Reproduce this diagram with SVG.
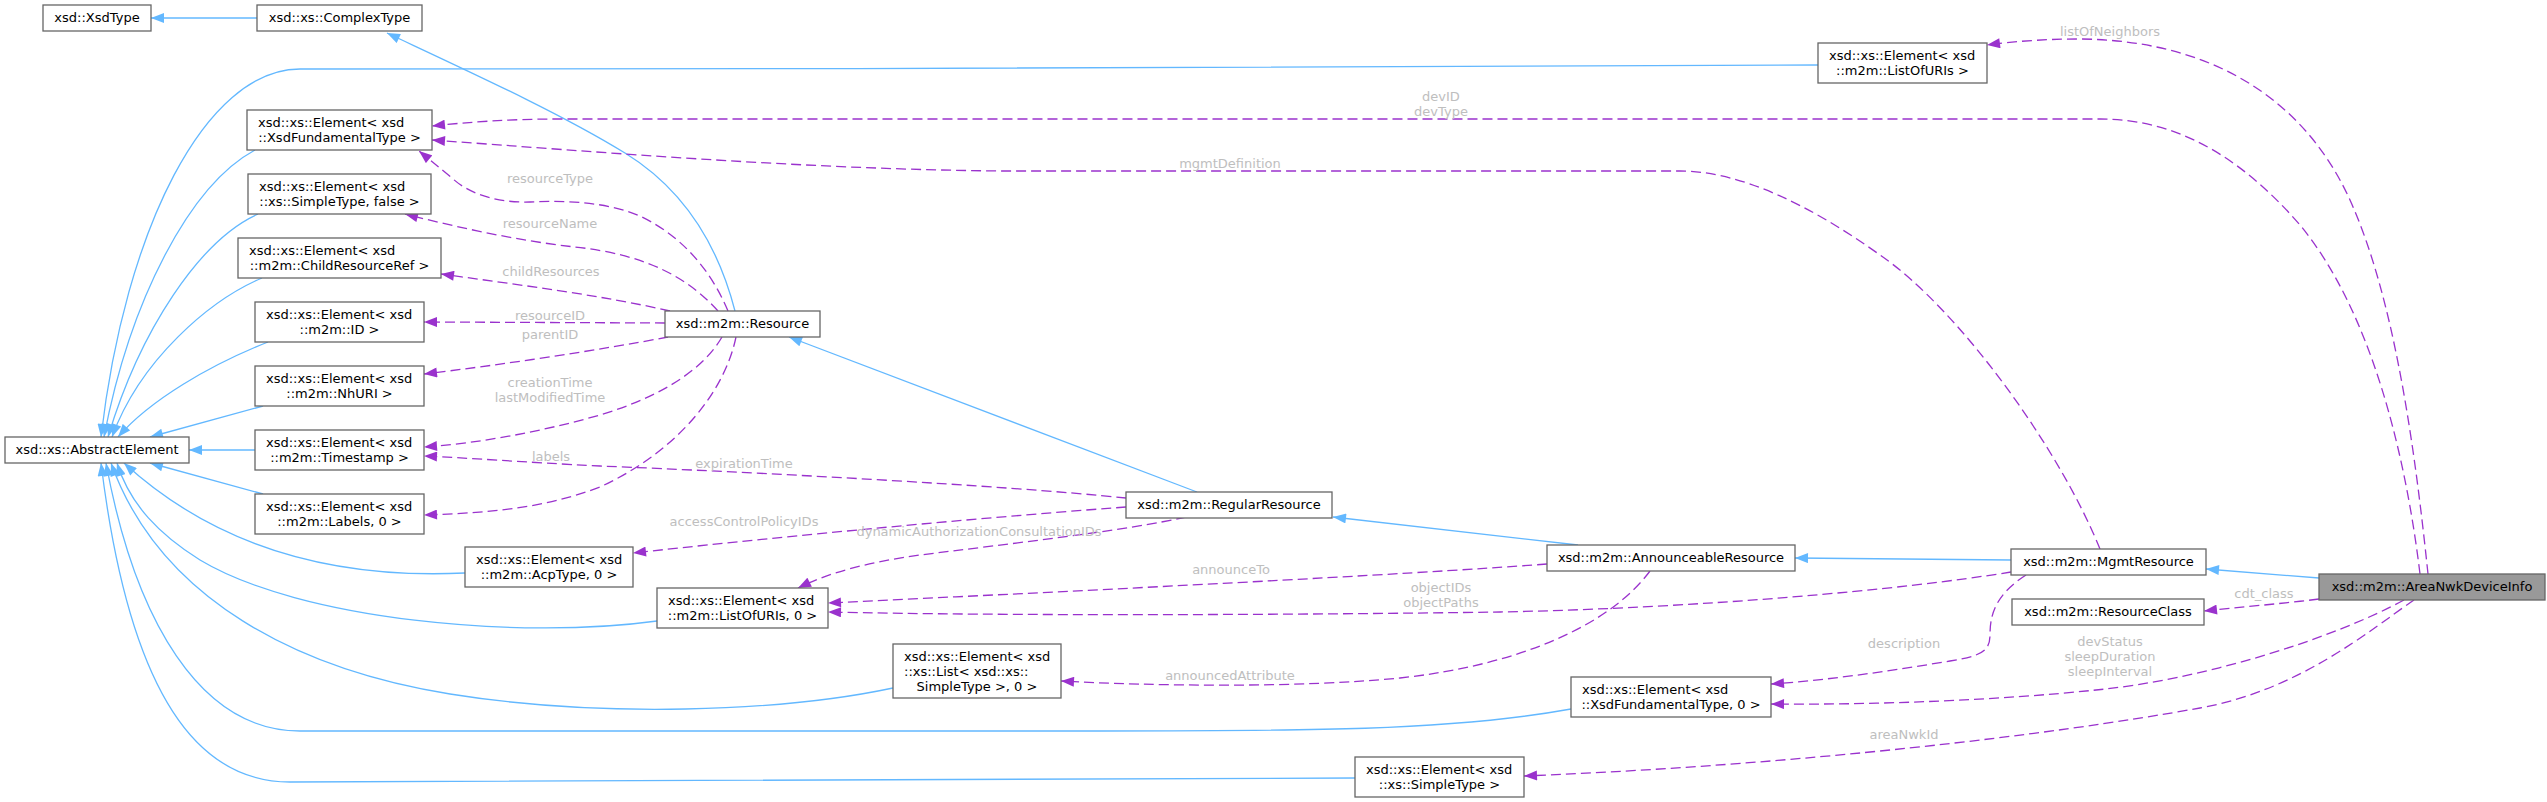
<svg xmlns="http://www.w3.org/2000/svg" width="2547" height="802" viewBox="0 0 2547 802">
<style>
.node rect{fill:#ffffff;stroke:#666666;stroke-width:1.3}
.node text{font-family:'DejaVu Sans',sans-serif;font-size:13px;fill:#000000}
.node text.c{text-anchor:middle}
#n_AreaNwkDeviceInfo rect{fill:#999999}
.inh{fill:none;stroke:#63B8FF;stroke-width:1.3;marker-end:url(#ab)}
.use{fill:none;stroke:#9A32CD;stroke-width:1.3;stroke-dasharray:10,5;marker-end:url(#ap)}
.lbl{font-family:'DejaVu Sans',sans-serif;font-size:13px;fill:#BEBEBE;text-anchor:middle}
</style>
<defs>
<marker id="ab" markerUnits="userSpaceOnUse" markerWidth="14" markerHeight="10" viewBox="0 0 13 10" refX="13" refY="5" orient="auto"><path d="M0,0 L13,5 L0,10 z" fill="#63B8FF" stroke="none"/></marker>
<marker id="ap" markerUnits="userSpaceOnUse" markerWidth="14" markerHeight="10" viewBox="0 0 13 10" refX="13" refY="5" orient="auto"><path d="M0,0 L13,5 L0,10 z" fill="#9A32CD" stroke="none"/></marker>
</defs>
<rect x="0" y="0" width="2547" height="802" fill="#ffffff"/>
<g id="edges">
<path class="inh" d="M257,18 L151,18"/>
<path class="inh" d="M735,311 C718,245 685,190 625,153 C560,113 470,72 387,33"/>
<path class="inh" d="M1197,492 L789,337"/>
<path class="inh" d="M1578,545 L1333,517"/>
<path class="inh" d="M2011,560 L1795,558"/>
<path class="inh" d="M2319,578 L2206,569"/>
<path class="inh" d="M1818,65 C1400,68 800,69 300,69 C205,69 125,230 101,437"/>
<path class="inh" d="M255,150 C190,185 130,300 104,437"/>
<path class="inh" d="M258,214 C200,240 140,330 108,437"/>
<path class="inh" d="M262,278 C210,300 140,360 112,437"/>
<path class="inh" d="M268,342 C210,365 150,400 118,437"/>
<path class="inh" d="M263,406 L150,437"/>
<path class="inh" d="M255,450 L189,450"/>
<path class="inh" d="M263,494 L150,463"/>
<path class="inh" d="M465,573 C360,578 230,560 124,463"/>
<path class="inh" d="M657,621 C520,640 300,620 200,560 C160,535 130,505 117,463"/>
<path class="inh" d="M893,688 C780,712 600,718 450,694 C300,670 160,600 111,463"/>
<path class="inh" d="M1571,709 C1450,731 1300,731 1100,731 L300,731 C200,731 135,620 106,463"/>
<path class="inh" d="M1355,778 C1200,781 800,782 290,782 C200,782 130,700 101,463"/>

<path class="use" d="M2428,574 C2415,450 2395,300 2350,200 C2300,90 2200,40 2080,39 C2040,39 2010,42 1987,45"/>
<text class="lbl" x="2110" y="35.5">listOfNeighbors</text>
<path class="use" d="M2420,574 C2405,450 2370,310 2300,225 C2235,150 2170,119 2100,119 L560,119 C510,119 470,122 432,126"/>
<text class="lbl" x="1441" y="100.5">devID</text>
<text class="lbl" x="1441" y="115.5">devType</text>
<path class="use" d="M2100,549 C2060,450 1960,310 1880,255 C1810,205 1740,171 1680,171 L1000,171 C800,169 600,152 432,140"/>
<text class="lbl" x="1230" y="167.5">mgmtDefinition</text>
<path class="use" d="M2319,599 C2280,604 2240,607 2204,611"/>
<text class="lbl" x="2264" y="597.5">cdt_class</text>
<path class="use" d="M2404,600 C2330,640 2200,680 2096,690 C2000,700 1880,705 1771,704"/>
<text class="lbl" x="2110" y="645.5">devStatus</text>
<text class="lbl" x="2110" y="660.5">sleepDuration</text>
<text class="lbl" x="2110" y="675.5">sleepInterval</text>
<path class="use" d="M2414,600 C2370,630 2300,690 2200,708 C2050,735 1800,765 1524,776"/>
<text class="lbl" x="1904" y="738.5">areaNwkId</text>
<path class="use" d="M2026,575 C1995,595 1990,615 1990,635 C1990,652 1980,656 1950,661 C1890,671 1830,680 1771,684"/>
<text class="lbl" x="1904" y="647.5">description</text>
<path class="use" d="M2011,572 C1900,590 1700,608 1500,612 C1300,615 1000,616 828,612"/>
<text class="lbl" x="1441" y="591.5">objectIDs</text>
<text class="lbl" x="1441" y="606.5">objectPaths</text>
<path class="use" d="M1547,564 C1400,575 1100,590 828,603"/>
<text class="lbl" x="1231" y="573.5">announceTo</text>
<path class="use" d="M1650,571 C1610,625 1520,665 1400,678 C1300,688 1150,686 1061,681"/>
<text class="lbl" x="1230" y="679.5">announcedAttribute</text>
<path class="use" d="M1126,498 C1000,485 750,472 600,466 C520,462 470,458 424,456"/>
<text class="lbl" x="744" y="467.5">expirationTime</text>
<path class="use" d="M1126,507 C950,520 750,540 633,553"/>
<text class="lbl" x="744" y="525.5">accessControlPolicyIDs</text>
<path class="use" d="M1186,517 C1130,530 1000,545 920,555 C870,562 830,572 798,588"/>
<text class="lbl" x="979" y="535.5">dynamicAuthorizationConsultationIDs</text>
<path class="use" d="M728,311 C715,280 690,240 640,216 C610,203 570,200 530,202 C500,203 470,195 452,178 C440,168 430,160 419,151"/>
<text class="lbl" x="550" y="182.5">resourceType</text>
<path class="use" d="M718,311 C690,280 650,255 575,247 C520,241 460,228 405,214"/>
<text class="lbl" x="550" y="227.5">resourceName</text>
<path class="use" d="M670,311 C600,295 520,285 441,274"/>
<text class="lbl" x="551" y="275.5">childResources</text>
<path class="use" d="M665,323 L424,322"/>
<text class="lbl" x="550" y="319.5">resourceID</text>
<path class="use" d="M668,337 C600,350 500,365 424,374"/>
<text class="lbl" x="550" y="338.5">parentID</text>
<path class="use" d="M722,337 C700,375 650,400 600,415 C540,432 480,443 424,447"/>
<text class="lbl" x="550" y="386.5">creationTime</text>
<text class="lbl" x="550" y="401.5">lastModifiedTime</text>
<path class="use" d="M736,337 C725,390 680,450 600,487 C540,510 480,513 424,515"/>
<text class="lbl" x="551" y="460.5">labels</text>
</g>

<g id="n_XsdType" class="node"><rect x="43" y="5" width="108" height="26"/><text class="c" x="97" y="22">xsd::XsdType</text></g>
<g id="n_ComplexType" class="node"><rect x="257" y="5" width="165" height="26"/><text class="c" x="339.5" y="22">xsd::xs::ComplexType</text></g>
<g id="n_ElemListOfURIs" class="node"><rect x="1818" y="43" width="169" height="40"/><text x="1829" y="59.5">xsd::xs::Element&lt; xsd</text><text class="c" x="1902.5" y="74.5">::m2m::ListOfURIs &gt;</text></g>
<g id="n_ElemXsdFundamentalType" class="node"><rect x="247" y="110" width="185" height="40"/><text x="258" y="126.5">xsd::xs::Element&lt; xsd</text><text class="c" x="339.5" y="141.5">::XsdFundamentalType &gt;</text></g>
<g id="n_ElemSimpleTypeFalse" class="node"><rect x="248" y="174" width="183" height="40"/><text x="259" y="190.5">xsd::xs::Element&lt; xsd</text><text class="c" x="339.5" y="205.5">::xs::SimpleType, false &gt;</text></g>
<g id="n_ElemChildResourceRef" class="node"><rect x="238" y="238" width="203" height="40"/><text x="249" y="254.5">xsd::xs::Element&lt; xsd</text><text class="c" x="339.5" y="269.5">::m2m::ChildResourceRef &gt;</text></g>
<g id="n_ElemID" class="node"><rect x="255" y="302" width="169" height="40"/><text x="266" y="318.5">xsd::xs::Element&lt; xsd</text><text class="c" x="339.5" y="333.5">::m2m::ID &gt;</text></g>
<g id="n_ElemNhURI" class="node"><rect x="255" y="366" width="169" height="40"/><text x="266" y="382.5">xsd::xs::Element&lt; xsd</text><text class="c" x="339.5" y="397.5">::m2m::NhURI &gt;</text></g>
<g id="n_AbstractElement" class="node"><rect x="5" y="437" width="184" height="26"/><text class="c" x="97" y="454">xsd::xs::AbstractElement</text></g>
<g id="n_ElemTimestamp" class="node"><rect x="255" y="430" width="169" height="40"/><text x="266" y="446.5">xsd::xs::Element&lt; xsd</text><text class="c" x="339.5" y="461.5">::m2m::Timestamp &gt;</text></g>
<g id="n_ElemLabels" class="node"><rect x="255" y="494" width="169" height="40"/><text x="266" y="510.5">xsd::xs::Element&lt; xsd</text><text class="c" x="339.5" y="525.5">::m2m::Labels, 0 &gt;</text></g>
<g id="n_ElemAcpType" class="node"><rect x="465" y="547" width="168" height="40"/><text x="476" y="563.5">xsd::xs::Element&lt; xsd</text><text class="c" x="549" y="578.5">::m2m::AcpType, 0 &gt;</text></g>
<g id="n_ElemListOfURIs0" class="node"><rect x="657" y="588" width="171" height="40"/><text x="668" y="604.5">xsd::xs::Element&lt; xsd</text><text class="c" x="742.5" y="619.5">::m2m::ListOfURIs, 0 &gt;</text></g>
<g id="n_ElemList" class="node"><rect x="893" y="644" width="168" height="54"/><text x="904" y="660.5">xsd::xs::Element&lt; xsd</text><text x="904" y="675.5">::xs::List&lt; xsd::xs::</text><text class="c" x="977" y="690.5">SimpleType &gt;, 0 &gt;</text></g>
<g id="n_ElemXsdFundamentalType0" class="node"><rect x="1571" y="677" width="200" height="40"/><text x="1582" y="693.5">xsd::xs::Element&lt; xsd</text><text class="c" x="1671" y="708.5">::XsdFundamentalType, 0 &gt;</text></g>
<g id="n_ElemSimpleType" class="node"><rect x="1355" y="757" width="169" height="40"/><text x="1366" y="773.5">xsd::xs::Element&lt; xsd</text><text class="c" x="1439.5" y="788.5">::xs::SimpleType &gt;</text></g>
<g id="n_Resource" class="node"><rect x="665" y="311" width="155" height="26"/><text class="c" x="742.5" y="328">xsd::m2m::Resource</text></g>
<g id="n_RegularResource" class="node"><rect x="1126" y="492" width="206" height="26"/><text class="c" x="1229" y="509">xsd::m2m::RegularResource</text></g>
<g id="n_AnnounceableResource" class="node"><rect x="1547" y="545" width="248" height="26"/><text class="c" x="1671" y="562">xsd::m2m::AnnounceableResource</text></g>
<g id="n_MgmtResource" class="node"><rect x="2011" y="549" width="195" height="26"/><text class="c" x="2108.5" y="566">xsd::m2m::MgmtResource</text></g>
<g id="n_ResourceClass" class="node"><rect x="2012" y="599" width="192" height="26"/><text class="c" x="2108" y="616">xsd::m2m::ResourceClass</text></g>
<g id="n_AreaNwkDeviceInfo" class="node"><rect x="2319" y="574" width="226" height="26"/><text class="c" x="2432" y="591">xsd::m2m::AreaNwkDeviceInfo</text></g>
</svg>
